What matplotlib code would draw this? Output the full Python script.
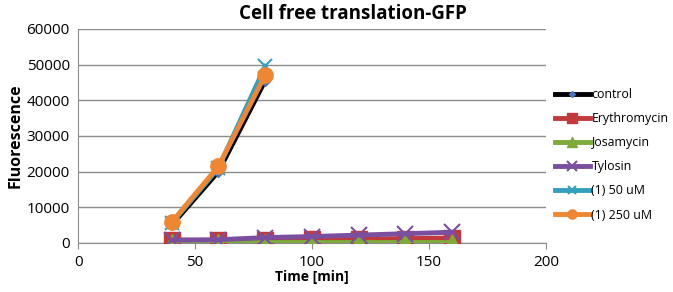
import matplotlib.pyplot as plt

plt.rcParams['font.family'] = ['Open Sans', 'DejaVu Sans']

t_short = [40, 60, 80]
t_long = [40, 60, 80, 100, 120, 140, 160]

control = [5000, 20000, 45500]
erythro = [800, 700, 900, 1000, 1100, 1200, 1400]
josa = [300, 300, 300, 300, 300, 300, 300]
tylosin = [800, 900, 1500, 1800, 2200, 2600, 3000]
uM50 = [5500, 21000, 49500]
uM250 = [5800, 21500, 47000]

fig = plt.figure(figsize=(6.73, 2.92), dpi=100)
ax = fig.add_axes([0.116, 0.168, 0.695, 0.733])

lw = 3.5
ax.plot(t_short, control, '-', color='black', lw=lw, marker='D', ms=5,
        mfc='#4472c4', mec='#4472c4', label='control', zorder=3)
ax.plot(t_long, erythro, '-', color='#c0393b', lw=lw, marker='s', ms=11,
        label='Erythromycin', zorder=3)
ax.plot(t_long, josa, '-', color='#7faa3c', lw=lw, marker='^', ms=11,
        label='Josamycin', zorder=4)
ax.plot(t_long, tylosin, '-', color='#7b4fa0', lw=lw, marker='x', ms=11,
        mew=1.5, label='Tylosin', zorder=5)
ax.plot(t_short, uM50, '-', color='#34a0c0', lw=lw, marker='x', ms=10,
        mew=1.5, label='(1) 50 uM', zorder=3)
ax.plot(t_short, uM250, '-', color='#ef8632', lw=lw, marker='o', ms=11,
        label='(1) 250 uM', zorder=4)

ax.set_xlim(0, 200)
ax.set_ylim(0, 60000)
ax.set_xticks([0, 50, 100, 150, 200])
ax.set_yticks(range(0, 60001, 10000))
ax.grid(axis='y', color='#8c8c8c', lw=1)
ax.set_axisbelow(True)
for s in ['top', 'right']:
    ax.spines[s].set_visible(False)
ax.spines['left'].set_color('#8c8c8c')
ax.spines['bottom'].set_color('#8c8c8c')
ax.tick_params(axis='y', length=0, labelsize=11, pad=6)
ax.tick_params(axis='x', length=4, color='#8c8c8c', labelsize=11, pad=5)

ax.set_xlabel('Time [min]', fontsize=10, fontweight='bold', labelpad=0)
ax.set_ylabel('Fluorescence', fontsize=11.5, fontweight='bold', labelpad=2)
fig.suptitle('Cell free translation-GFP', x=0.525, y=0.985, fontsize=13.5, fontweight='bold')

leg = ax.legend(loc='upper left', bbox_to_anchor=(555 / 673, 1 - 88 / 292),
                bbox_transform=fig.transFigure, frameon=False, borderaxespad=0,
                fontsize=8.9, handlelength=2.8, handletextpad=0.15,
                labelspacing=0.9, markerscale=0.6, borderpad=0.0)

fig.savefig('out.png', dpi=100)
